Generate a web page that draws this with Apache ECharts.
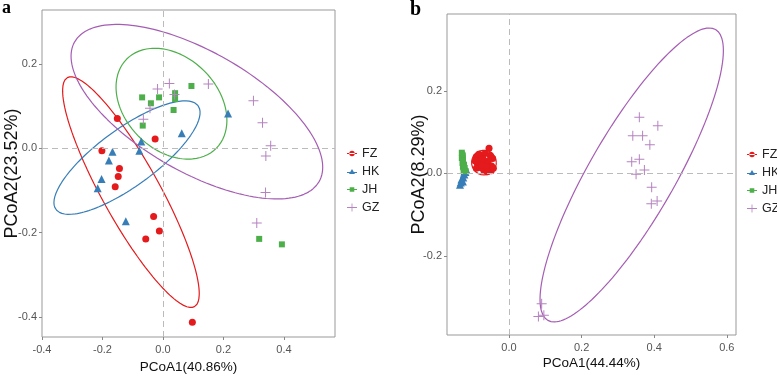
<!DOCTYPE html>
<html>
<head>
<meta charset="utf-8">
<script src="https://cdn.jsdelivr.net/npm/echarts@6/dist/echarts.min.js"></script>
<style>
  html, body { margin: 0; padding: 0; background: #fff; }
  #chart { width: 777px; height: 378px; }
</style>
</head>
<body>
<div id="chart"></div>
<script>
// ---- data ----
var groups = ["FZ", "HK", "JH", "GZ"];

// panel a : PCoA1 (40.86%) x PCoA2 (23.52%)
var fzA = [[-0.151, 0.071], [-0.202, -0.006], [-0.026, 0.022], [-0.144, -0.048], [-0.148, -0.067],
  [-0.158, -0.091], [-0.031, -0.162], [-0.012, -0.196], [-0.057, -0.215], [0.097, -0.413]];
var hkA = [[0.215, 0.083], [0.062, 0.036], [-0.072, 0.016], [-0.078, -0.006], [-0.167, -0.008],
  [-0.179, -0.029], [-0.203, -0.073], [-0.216, -0.095], [-0.123, -0.173]];
var jhA = [[0.094, 0.148], [-0.069, 0.121], [-0.040, 0.107], [-0.013, 0.121], [0.040, 0.131],
  [0.040, 0.117], [0.035, 0.091], [-0.067, 0.054], [0.318, -0.215], [0.393, -0.228]];
var gzA = [[0.150, 0.153], [0.021, 0.154], [-0.018, 0.141], [0.038, 0.128], [-0.043, 0.095],
  [-0.065, 0.069], [0.299, 0.113], [0.329, 0.061], [0.356, 0.006], [0.340, -0.018],
  [0.339, -0.105], [0.310, -0.177]];

// panel b : PCoA1 (44.44%) x PCoA2 (8.29%)
var fzB = [[-0.055, 0.061], [-0.090, 0.040], [-0.083, 0.046], [-0.075, 0.044], [-0.066, 0.048],
  [-0.052, 0.044], [-0.045, 0.036], [-0.087, 0.024], [-0.080, 0.030], [-0.066, 0.024],
  [-0.057, 0.030], [-0.048, 0.018], [-0.090, 0.012], [-0.080, 0.014], [-0.070, 0.008],
  [-0.062, 0.016], [-0.049, 0.006], [-0.043, 0.012], [-0.093, 0.030], [-0.072, 0.036],
  [-0.060, 0.004], [-0.076, 0.020]];
var hkB = [[-0.135, -0.028], [-0.133, -0.022], [-0.131, -0.015], [-0.127, -0.020], [-0.126, -0.010],
  [-0.123, -0.003], [-0.120, 0.003], [-0.117, 0.008], [-0.121, 0.012]];
var jhB = [[-0.130, 0.050], [-0.129, 0.044], [-0.130, 0.037], [-0.127, 0.031], [-0.128, 0.025],
  [-0.124, 0.021], [-0.127, 0.016], [-0.122, 0.013], [-0.125, 0.008], [-0.119, 0.005]];
var gzB = [[0.359, 0.136], [0.410, 0.115], [0.341, 0.091], [0.368, 0.091], [0.388, 0.069],
  [0.338, 0.028], [0.359, 0.034], [0.373, 0.008], [0.350, -0.002], [0.393, -0.034],
  [0.392, -0.074], [0.408, -0.067], [0.090, -0.316], [0.081, -0.347], [0.096, -0.344]];

// confidence ellipses: [cx, cy, ax, ay, bx, by] (centre + two half axes, data units)
var ellA = [
  [-0.106, -0.104, 0.210, -0.272, -0.083, -0.033],
  [-0.119, -0.022, 0.235, 0.123, 0.056, -0.055],
  [0.028, 0.106, 0.148, -0.106, -0.108, -0.078],
  [0.112, 0.087, 0.404, -0.166, -0.099, -0.124]
];
var ellB = [
  [-0.069, 0.026, 0.034, 0.000, 0.000, 0.030],
  [-0.127, -0.008, 0.004, 0.022, 0.005, 0.000],
  [-0.126, 0.027, 0.003, 0.026, 0.005, 0.000],
  [0.338, -0.004, 0.231, 0.3525, 0.102, -0.052]
];

var xTicksA = [-0.4, -0.2, 0, 0.2, 0.4];
var yTicksA = [-0.4, -0.2, 0, 0.2];
var xTicksB = [0, 0.2, 0.4, 0.6];
var yTicksB = [-0.2, 0, 0.2];

// ---- styles ----
var colors = ["#E41A1C", "#377EB8", "#4DAF4A", "#A55DB3"];
var crossColor = "#B583C0";
var sans = "'Liberation Sans', Arial, sans-serif";
var crossPath = "path://M4.5,0h1v10h-1z M0,4.5h10v1h-10z";
var symbols = ["circle", "triangle", "rect", crossPath];
var symSizes = [7, 8, 6, 10];
var legendIcons = [
  "path://M0,3.6h10v0.8h-10z M5,1.3a2.7,2.7 0 1,0 0.01,0z",
  "path://M0,4.1h10v0.8h-10z M5,1l3,5h-6z",
  "path://M0,3.6h10v0.8h-10z M2.7,1.7h4.6v4.6h-4.6z",
  "path://M0,3.6h10v0.8h-10z M4.6,0h0.8v8h-0.8z"
];

function ellipsePts(p) {
  var pts = [];
  for (var i = 0; i <= 160; i++) {
    var t = i / 160 * 2 * Math.PI;
    pts.push([p[0] + p[2] * Math.cos(t) + p[4] * Math.sin(t),
              p[1] + p[3] * Math.cos(t) + p[5] * Math.sin(t)]);
  }
  return pts;
}

function fmt(v) { return v.toFixed(1); }

function axis(gridIndex, min, max, ticks, name, gap, isY) {
  return {
    type: "value", gridIndex: gridIndex, min: min, max: max,
    name: name, nameLocation: "middle", nameGap: gap, nameMoveOverlap: false,
    nameTextStyle: { fontFamily: sans, fontSize: isY ? 18 : 13.5, color: "#111" },
    axisLine: { show: false, onZero: false },
    axisTick: { show: true, length: 3, customValues: ticks, lineStyle: { color: "#888" } },
    axisLabel: { customValues: ticks, formatter: fmt, margin: isY ? 5 : 7, color: "#555",
      fontFamily: sans, fontSize: 11 },
    splitLine: { show: false }
  };
}

var dataA = [fzA, hkA, jhA, gzA];
var dataB = [fzB, hkB, jhB, gzB];
var series = [];

[[dataA, ellA, 0], [dataB, ellB, 1]].forEach(function (panel) {
  var idx = panel[2];
  groups.forEach(function (g, i) {
    series.push({
      type: "line", name: g + "-ell", xAxisIndex: idx, yAxisIndex: idx,
      data: ellipsePts(panel[1][i]), showSymbol: false, silent: true,
      lineStyle: { color: colors[i], width: 1.2 }, z: 3
    });
  });
  groups.forEach(function (g, i) {
    var s = {
      type: "scatter", name: g, xAxisIndex: idx, yAxisIndex: idx,
      data: panel[0][i], symbol: symbols[i], symbolSize: symSizes[i],
      itemStyle: { color: i === 3 ? crossColor : colors[i], opacity: 1 }, z: 4
    };
    if (i === 0) {
      s.markLine = {
        silent: true, symbol: "none", label: { show: false },
        lineStyle: { color: "#bbb", type: [6, 4], width: 1 },
        data: [{ xAxis: 0 }, { yAxis: 0 }]
      };
    }
    series.push(s);
  });
});

function legend(left, top) {
  return {
    left: left, top: top, orient: "vertical", padding: 0,
    itemWidth: 10, itemHeight: 10, itemGap: 5, selectedMode: false,
    textStyle: { fontFamily: sans, fontSize: 12.5, color: "#222" },
    data: groups.map(function (g, i) {
      return { name: g, icon: legendIcons[i], itemStyle: { color: i === 3 ? crossColor : colors[i] } };
    })
  };
}

var chart = echarts.init(document.getElementById("chart"));
chart.setOption({
  animation: false,
  title: [
    { text: "a", left: 2, top: -1, padding: 0,
      textStyle: { fontFamily: "'Liberation Serif', serif", fontWeight: "bold", fontSize: 18, color: "#000" } },
    { text: "b", left: 410, top: 0, padding: 0,
      textStyle: { fontFamily: "'Liberation Serif', serif", fontWeight: "bold", fontSize: 20, color: "#000" } }
  ],
  grid: [
    { left: 42, top: 10, width: 293, height: 327, show: true, borderColor: "#999", borderWidth: 1,
      outerBoundsMode: "none" },
    { left: 447, top: 14, width: 289, height: 321, show: true, borderColor: "#999", borderWidth: 1,
      outerBoundsMode: "none" }
  ],
  xAxis: [
    axis(0, -0.4, 0.5686, xTicksA, "PCoA1(40.86%)", 23, false),
    axis(1, -0.1708, 0.6253, xTicksB, "PCoA1(44.44%)", 21, false)
  ],
  yAxis: [
    axis(0, -0.448, 0.3285, yTicksA, "PCoA2(23.52%)", 21, true),
    axis(1, -0.392, 0.3862, yTicksB, "PCoA2(8.29%)", 19, true)
  ],
  legend: [legend(347, 147), legend(747, 148)],
  series: series
});
</script>
</body>
</html>
